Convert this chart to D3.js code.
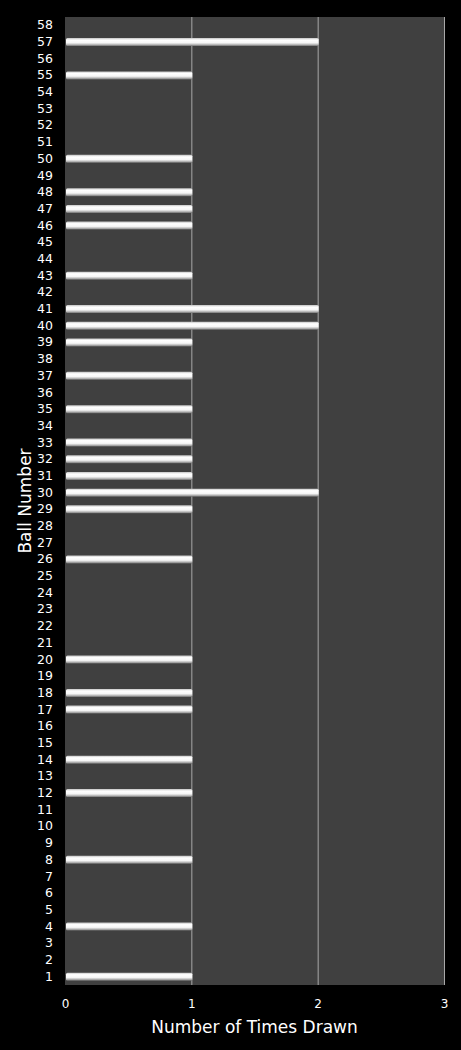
<!DOCTYPE html>
<html><head><meta charset="utf-8">
<script src="https://cdn.jsdelivr.net/npm/d3@7"></script>
<style>html,body{margin:0;padding:0;background:#000;}svg{display:block;}</style>
</head><body>
<svg id="c" width="461" height="1050"></svg>
<script>
const balls = d3.range(1, 59);
const drawnBalls = [1,4,8,12,14,17,18,20,26,29,30,31,32,33,35,37,39,40,41,43,46,47,48,50,55,57];
const drawnCounts = [1,1,1,1,1,1,1,1,1,1,2,1,1,1,1,1,1,2,2,1,1,1,1,1,1,2];
const xTicks = [0,1,2,3];

const svg = d3.select("#c");
const m = {l:65, r:444, t:17, b:985};
const x = d3.scaleLinear().domain([0,3]).range([m.l, m.r]);
const y = d3.scaleBand().domain(balls.slice().reverse()).range([m.t, m.b]).paddingInner(0.5).paddingOuter(0.25);

const defs = svg.append("defs");
const g = defs.append("linearGradient").attr("id","bar").attr("x1",0).attr("x2",0).attr("y1",0).attr("y2",1);
g.append("stop").attr("offset","0%").attr("stop-color","#c4c4c4");
g.append("stop").attr("offset","25%").attr("stop-color","#ffffff");
g.append("stop").attr("offset","60%").attr("stop-color","#f6f6f6");
g.append("stop").attr("offset","82%").attr("stop-color","#b8b8b8");
g.append("stop").attr("offset","100%").attr("stop-color","#707070");

svg.append("rect").attr("x",m.l).attr("y",m.t).attr("width",m.r-m.l).attr("height",m.b-m.t).attr("fill","#404040");

svg.append("g").selectAll("line").data(xTicks.slice(1)).join("line")
  .attr("x1",d=>x(d)+0.5).attr("x2",d=>x(d)+0.5).attr("y1",m.t).attr("y2",m.b)
  .attr("stroke","#a8a8a8").attr("stroke-width",1);

const data = drawnBalls.map((b,i)=>({b, v:drawnCounts[i]}));
const bw = 8;
svg.append("g").selectAll("rect").data(data).join("rect")
  .attr("x",x(0)+1).attr("y",d=>y(d.b)+y.bandwidth()/2-bw/2)
  .attr("width",d=>x(d.v)-x(0))
  .attr("height",bw)
  .attr("rx",1.5)
  .attr("fill","url(#bar)");

const font = "DejaVu Sans, Verdana, sans-serif";
const ya = svg.append("g").attr("transform",`translate(${m.l},0)`)
  .call(d3.axisLeft(y).tickSize(0).tickPadding(12));
ya.select(".domain").remove();
ya.selectAll("text").attr("fill","#fff").attr("font-family",font).attr("font-size","12.5px");

const xa = svg.append("g").attr("transform",`translate(0,${m.b})`)
  .call(d3.axisBottom(x).tickValues(xTicks).tickFormat(d3.format("d")).tickSize(0).tickPadding(14));
xa.select(".domain").remove();
xa.selectAll("text").attr("fill","#fff").attr("font-family",font).attr("font-size","12px");

svg.append("text").attr("x",(m.l+m.r)/2).attr("y",1033).attr("text-anchor","middle")
  .attr("fill","#fff").attr("font-family",font).attr("font-size","17px")
  .text("Number of Times Drawn");
svg.append("text").attr("transform",`translate(31,${(m.t+m.b)/2}) rotate(-90)`).attr("text-anchor","middle")
  .attr("fill","#fff").attr("font-family",font).attr("font-size","17px")
  .text("Ball Number");
</script>
</body></html>
